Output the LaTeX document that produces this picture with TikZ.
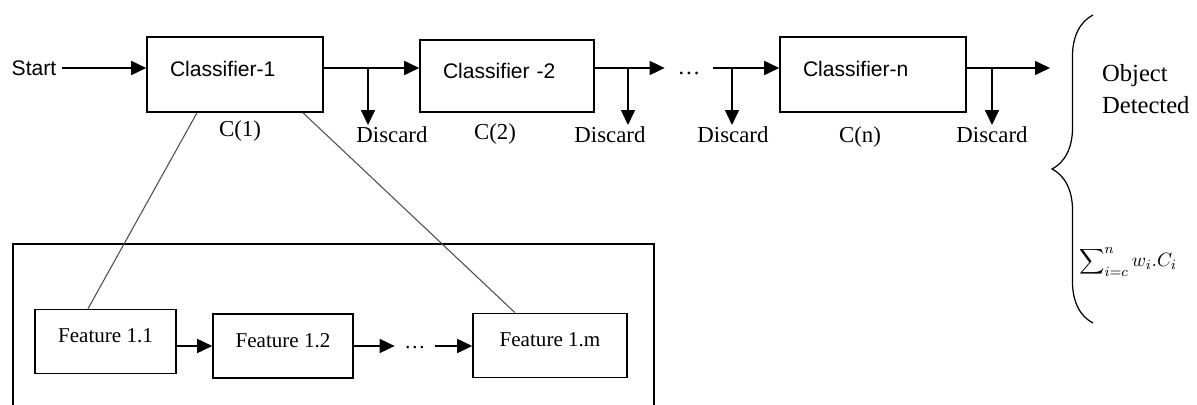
\documentclass[tikz,border=0pt]{standalone}
\usepackage{fontspec}
\setmainfont{Liberation Serif}
\setsansfont{Liberation Sans}
\usetikzlibrary{arrows.meta,decorations.pathreplacing}

\begin{document}
\begin{tikzpicture}[x=0.02cm,y=-0.02cm,
  arr/.style={line width=0.9pt,-{Triangle[length=0.3cm,width=0.28cm]}},
  clsbox/.style={draw,line width=0.9pt,minimum height=1.5cm,inner xsep=0.46cm,
    align=left,text depth=0.22cm,font=\sffamily\fontsize{12}{14}\selectfont},
  featbox/.style={draw,line width=0.9pt,minimum height=1.28cm,text depth=0.22cm,
    font=\fontsize{12}{14}\selectfont},
  lbl/.style={font=\fontsize{13}{16}\selectfont,inner sep=1pt},
  link/.style={line width=0.6pt,black!70}]
\useasboundingbox (0,0) rectangle (1197,405);

% classifier chain
\node[font=\sffamily\fontsize{12}{14}\selectfont] (start) at (34,68) {Start};
\node[clsbox,text width=2.6cm] (cls1) at (235,74.5) {Classifier-1};
\node[clsbox,text width=2.56cm,minimum height=1.44cm] (cls2) at (507,76) {Classifier -2};
\node[clsbox,text width=2.8cm] (clsn) at (873,74.5) {Classifier-n};
\node[inner sep=0pt,minimum width=0.96cm,font=\fontsize{13}{16}\selectfont] (dots1) at (689,73) {\dots};
\coordinate (done) at (1050,68);

\draw[arr] (start.east) -- (cls1.west |- start.east);
\draw[arr] (cls1.east |- start.east) -- (cls2.west |- start.east);
\draw[arr] (cls2.east |- start.east) -- (dots1.west |- start.east);
\draw[arr] (dots1.east |- start.east) -- (clsn.west |- start.east);
\draw[arr] (clsn.east |- start.east) -- (done);

% discard branches
\node[lbl,anchor=north] (dis1) at (392,125) {Discard};
\node[lbl,anchor=north] (dis2) at (610,125) {Discard};
\node[lbl,anchor=north] (dis3) at (733,125) {Discard};
\node[lbl,anchor=north] (dis4) at (992,125) {Discard};
\coordinate (b1) at (368,68);
\coordinate (b2) at (628,68);
\coordinate (b3) at (732,68);
\coordinate (b4) at (992,68);
\draw[arr] (b1) -- (b1 |- dis1.north);
\draw[arr] (b2) -- (b2 |- dis2.north);
\draw[arr] (b3) -- (b3 |- dis3.north);
\draw[arr] (b4) -- (b4 |- dis4.north);

\node[lbl] (c1) at (240,131) {C(1)};
\node[lbl] (c2) at (495,134) {C(2)};
\node[lbl] (cn) at (860,137) {C(n)};

% result
\draw[line width=0.7pt,decorate,decoration={brace,amplitude=0.82cm}] (1093,323) -- (1093,15);
\node[lbl,align=left,anchor=west,font=\fontsize{14}{18}\selectfont] (obj) at (1100,89) {Object\\Detected};
\node[anchor=west,inner sep=0pt,font=\fontsize{11}{13}\selectfont] (sum) at (1079,262) {$\displaystyle\sum\nolimits_{i=c}^{n} w_i.C_i$};

% features of classifier 1
\draw[line width=0.9pt] (13,405) -- (13,244) -- (654,244) -- (654,405);
\node[featbox,minimum width=2.82cm] (feat1) at (105.5,341.5) {Feature 1.1};
\node[featbox,minimum width=2.8cm] (feat2) at (283,346) {Feature 1.2};
\node[featbox,minimum width=3.08cm] (featm) at (550,345.5) {Feature 1.m};
\node[inner sep=0pt,minimum width=0.8cm,font=\fontsize{12}{14}\selectfont] (dots2) at (415,348) {\dots};

\draw[arr] (feat1.east |- feat2) -- (feat2.west);
\draw[arr] (feat2.east) -- (dots2.west |- feat2);
\draw[arr] (dots2.east |- feat2) -- (featm.west |- feat2);

\draw[link] ([xshift=-0.76cm]cls1.south) -- ([xshift=-0.35cm]feat1.north);
\draw[link] ([xshift=1.36cm]cls1.south) -- ([xshift=-0.7cm]featm.north);
\end{tikzpicture}
\end{document}
